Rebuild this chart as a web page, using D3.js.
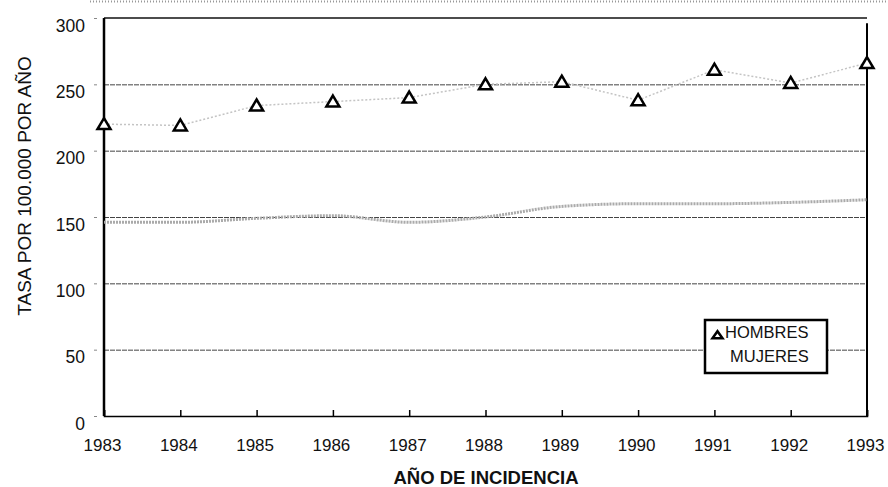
<!doctype html>
<html>
<head>
<meta charset="utf-8">
<script src="https://d3js.org/d3.v7.min.js"></script>
<style>
  body { margin: 0; background: #fff; }
  text { font-family: "Liberation Sans", Arial, sans-serif; fill: #111; }
</style>
</head>
<body>
<script>

// values
var years = [1983, 1984, 1985, 1986, 1987, 1988, 1989, 1990, 1991, 1992, 1993];
var hombres = [220, 219, 234, 237, 240, 250, 252, 238, 261, 251, 266];
var mujeres = [146, 146, 149, 151, 146, 150, 158, 160, 160, 161, 163];
var yTicks = [0, 50, 100, 150, 200, 250, 300];
var seriesNames = ["HOMBRES", "MUJERES"];

var W = 888, H = 487;
var margin = {top: 18, right: 21, bottom: 71, left: 104},
    width = W - margin.left - margin.right,
    height = H - margin.top - margin.bottom;

var svg = d3.select("body").append("svg")
    .attr("width", W)
    .attr("height", H);

// faint dotted edge at the very top of the scan
svg.append("line")
   .attr("x1", 90).attr("x2", W).attr("y1", 1.5).attr("y2", 1.5)
   .attr("stroke", "#999").attr("stroke-width", 2).attr("stroke-dasharray", "1,2");

var g = svg.append("g")
   .attr("transform", "translate(" + margin.left + "," + margin.top + ")");

var x = d3.scaleLinear().domain([1983, 1993]).range([0, width]);
var y = d3.scaleLinear().domain([0, 300]).range([height, 0]);

// horizontal grid
g.append("g")
 .attr("class", "grid")
 .call(d3.axisLeft(y).tickValues(yTicks.slice(1, -1)).tickSize(-width).tickFormat(""))
 .call(function(s) {
     s.select(".domain").remove();
     s.selectAll("line").attr("stroke", "#444").attr("stroke-width", 1).attr("stroke-dasharray", "5,1");
 });

// top line at 300
g.append("line")
 .attr("x1", 0).attr("x2", width)
 .attr("y1", y(300)).attr("y2", y(300))
 .attr("stroke", "#111").attr("stroke-width", 1.4);

// y axis labels
g.append("g")
 .call(d3.axisLeft(y).tickValues(yTicks).tickSize(3).tickPadding(16))
 .call(function(s) {
     s.select(".domain").remove();
     s.selectAll("line").attr("stroke", "#888").attr("transform", "translate(-7,0)");
     s.selectAll("text").attr("font-size", "17.5px").attr("dy", "0.75em").attr("fill", "#222");
 });

// x axis with upward ticks
g.append("g")
 .attr("transform", "translate(0," + height + ")")
 .call(d3.axisBottom(x).tickValues(years).tickFormat(d3.format("d")).tickSize(-6).tickPadding(23))
 .call(function(s) {
     s.select(".domain").attr("stroke", "#000").attr("stroke-width", 1.6);
     s.selectAll("line").attr("stroke", "#000").attr("stroke-width", 1.5);
     s.selectAll("text").attr("font-size", "17px").attr("fill", "#222").attr("dx", "-2px");
 });

// left and right frame lines
g.append("line")
 .attr("x1", 0).attr("x2", 0).attr("y1", y(300)).attr("y2", height)
 .attr("stroke", "#000").attr("stroke-width", 2.5);
g.append("line")
 .attr("x1", width).attr("x2", width).attr("y1", y(296)).attr("y2", height)
 .attr("stroke", "#000").attr("stroke-width", 2);

// MUJERES line (grey, dithered in the scan)
var line = d3.line()
    .x(function(d, i) { return x(years[i]); })
    .y(function(d) { return y(d); })
    .curve(d3.curveMonotoneX);

g.append("path")
 .datum(mujeres)
 .attr("fill", "none")
 .attr("stroke", "#aaa")
 .attr("stroke-width", 3)
 .attr("stroke-dasharray", "2,1")
 .attr("d", line);

// HOMBRES faint connecting line
g.append("path")
 .datum(hombres)
 .attr("fill", "none")
 .attr("stroke", "#c4c4c4")
 .attr("stroke-width", 1.5)
 .attr("stroke-dasharray", "2,2")
 .attr("d", d3.line().x(function(d, i) { return x(years[i]); }).y(function(d) { return y(d); }));

// open triangles
function tri(w, h) {
    return "M0," + (-h * 0.55) + "L" + (w / 2) + "," + (h * 0.45) + "L" + (-w / 2) + "," + (h * 0.45) + "Z";
}

g.selectAll(".tri")
 .data(hombres)
 .enter().append("path")
 .attr("class", "tri")
 .attr("transform", function(d, i) { return "translate(" + x(years[i]) + "," + y(d) + ")"; })
 .attr("d", tri(13, 11))
 .attr("fill", "#fff")
 .attr("stroke", "#000")
 .attr("stroke-width", 2.5)
 .attr("stroke-linejoin", "miter");

// legend
var leg = svg.append("g").attr("transform", "translate(705,320)");
leg.append("rect")
   .attr("width", 122).attr("height", 53)
   .attr("fill", "#fff").attr("stroke", "#000").attr("stroke-width", 2.5);
leg.append("path")
   .attr("transform", "translate(12.5,15)")
   .attr("d", tri(10, 7))
   .attr("fill", "#fff").attr("stroke", "#000").attr("stroke-width", 2.5);
leg.append("text")
   .attr("x", 20).attr("y", 18)
   .attr("font-size", "16.5px")
   .attr("fill", "#222")
   .text(seriesNames[0]);
leg.append("text")
   .attr("x", 25).attr("y", 42)
   .attr("font-size", "16.5px")
   .attr("fill", "#222")
   .text(seriesNames[1]);

// axis titles
svg.append("text")
   .attr("transform", "translate(31," + 186 + ") rotate(-90)")
   .attr("text-anchor", "middle")
   .attr("font-size", "19px")
   .attr("fill", "#222")
   .text("TASA POR 100.000 POR AÑO");

svg.append("text")
   .attr("x", 486)
   .attr("y", 484)
   .attr("text-anchor", "middle")
   .attr("font-size", "18.5px")
   .attr("font-weight", "bold")
   .text("AÑO DE INCIDENCIA");

</script>
</body>
</html>
